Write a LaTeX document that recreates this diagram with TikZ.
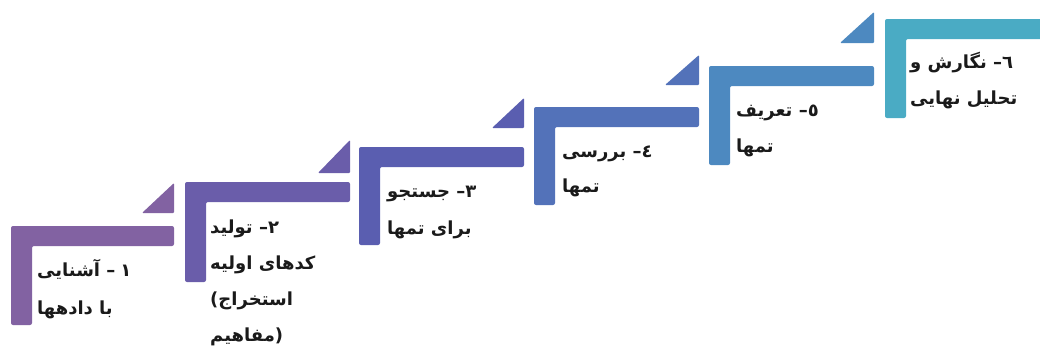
\documentclass[tikz,border=0pt]{standalone}
\usepackage{fontspec}
\newfontfamily\arabicfont[Script=Arabic]{DejaVu Sans}
\newfontfamily\plainfont{DejaVu Sans}
\TeXXeTstate=1
\newcommand{\fa}[1]{\mbox{\beginR #1\endR}}
\newcommand{\lt}[1]{\mbox{\plainfont\bfseries #1}}
% word(s), then dash, then the number at the right end
\newcommand{\numline}[3]{\fa{#1}\ \lt{–}\hspace{#3}\lt{#2}}
% #1 colour, #2 x, #3 y (top), #4 right end, #5 bottom
\newcommand{\stairL}[5]{%
  \fill[#1, rounded corners=2pt] (#2,#3) -- (#4,#3) -- (#4,{#3+20}) -- ({#2+21},{#3+20}) -- ({#2+21},#5) -- (#2,#5) -- cycle;}
% #1 colour, #2 left, #3 right, #4 base, #5 apex
\newcommand{\stairTri}[5]{%
  \fill[#1, rounded corners=1pt] (#2,#4) -- (#3,#4) -- (#3,#5) -- cycle;}
\definecolor{cA}{HTML}{8262A2}
\definecolor{cB}{HTML}{6A5DAA}
\definecolor{cC}{HTML}{5A5EB0}
\definecolor{cD}{HTML}{5372B9}
\definecolor{cE}{HTML}{4D89C0}
\definecolor{cF}{HTML}{4AABC4}
\definecolor{txt}{HTML}{1A1A1A}
\begin{document}
\begin{tikzpicture}[x=1pt,y=-1pt,
  steptext/.style={anchor=base west, inner sep=0pt, text=txt,
    font=\arabicfont\bfseries\fontsize{18}{22}\selectfont}]
\useasboundingbox (0,0) rectangle (1040,356);
\clip (0,0) rectangle (1040,356);
% step shapes
\stairL{cA}{11}{226}{174}{325}
\stairTri{cA}{142}{174}{213}{183}
\stairL{cB}{185}{182}{350}{282}
\stairTri{cB}{318}{350}{173}{140}
\stairL{cC}{359}{147}{524}{245}
\stairTri{cC}{492}{524}{128}{98}
\stairL{cD}{534}{107}{699}{205}
\stairTri{cD}{665}{699}{85}{55}
\stairL{cE}{709}{66}{874}{165}
\stairTri{cE}{840}{874}{43}{12}
\stairL{cF}{885}{19}{1048}{118}
% texts
\node[steptext] (t1a) at (37,276) {\numline{آشنایی}{۱}{5pt}};
\node[steptext] (t1b) at (37,314) {\fa{با دادهها}};
\node[steptext] (t2a) at (210,233) {\numline{تولید}{۲}{0pt}};
\node[steptext] (t2b) at (210,269) {\fa{کدهای اولیه}};
\node[steptext] (t2c) at (210,305) {\lt{(}\fa{استخراج}};
\node[steptext] (t2d) at (210,341) {\fa{مفاهیم}\lt{)}};
\node[steptext] (t3a) at (387,197) {\numline{جستجو}{۳}{0pt}};
\node[steptext] (t3b) at (387,234) {\fa{برای تمها}};
\node[steptext] (t4a) at (562,157) {\numline{بررسی}{٤}{0pt}};
\node[steptext] (t4b) at (562,192) {\fa{تمها}};
\node[steptext] (t5a) at (736,116) {\numline{تعریف}{٥}{0pt}};
\node[steptext] (t5b) at (736,152) {\fa{تمها}};
\node[steptext] (t6a) at (910,68) {\numline{نگارش و}{٦}{0pt}};
\node[steptext] (t6b) at (910,104) {\fa{تحلیل نهایی}};
\end{tikzpicture}
\end{document}
